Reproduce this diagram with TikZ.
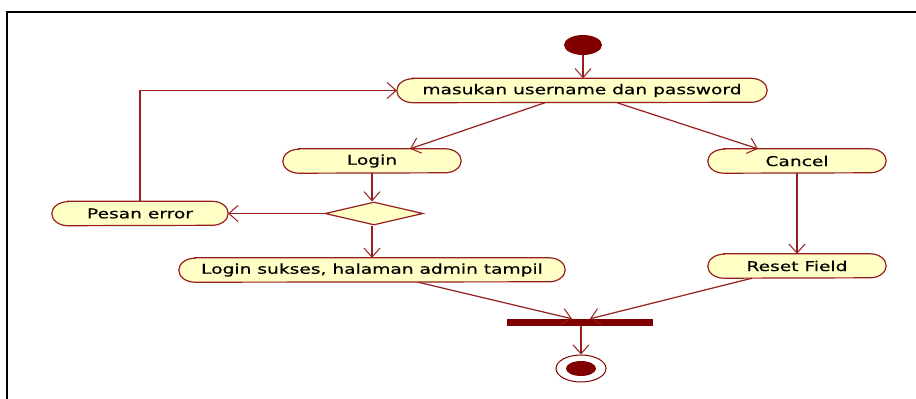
\documentclass[tikz,border=0pt]{standalone}
\usepackage{fontspec}
\setmainfont[FakeStretch=1.38,FakeBold=0.4]{DejaVu Sans}
\usetikzlibrary{shapes.misc,shapes.geometric,arrows.meta,calc}
\definecolor{umldark}{RGB}{128,0,0}
\definecolor{umlline}{RGB}{150,30,30}
\definecolor{umlfill}{RGB}{255,255,198}
\pgfdeclarelayer{background}
\pgfsetlayers{background,main}

% outline of an action state: straight sides with half-ellipse ends
\newcommand\actionoutline[1]{%
  \begin{pgfonlayer}{background}
    \path[actionborder] ($(#1.north west)+(16,0)$) -- ($(#1.north east)+(-16,0)$)
      arc[start angle=90,end angle=-90,x radius=16pt,y radius=12pt]
      -- ($(#1.south west)+(16,0)$)
      arc[start angle=270,end angle=90,x radius=16pt,y radius=12pt] -- cycle;
  \end{pgfonlayer}}

\begin{document}
\begin{tikzpicture}[x=1pt,y=-1pt,
  action/.style={rectangle, minimum height=24pt, inner sep=0pt, text=black,
    font=\fontsize{13.5}{16}\selectfont},
  actionborder/.style={draw=umlline, fill=umlfill, line width=1.2pt},
  decision/.style={diamond, draw=umlline, fill=umlfill, line width=1.2pt,
    minimum width=98pt, minimum height=23pt, inner sep=0pt},
  flow/.style={draw=umlline, line width=1.2pt,
    -{Straight Barb[length=9pt,width=16pt,line width=1pt]}},
  startdot/.style={ellipse, fill=umldark, minimum width=38pt, minimum height=20pt, inner sep=0pt},
  endring/.style={ellipse, draw=umldark, line width=1pt, fill=white,
    minimum width=50pt, minimum height=27pt, inner sep=0pt},
  enddot/.style={ellipse, fill=umldark, minimum width=30pt, minimum height=15pt, inner sep=0pt},
  syncbar/.style={rectangle, fill=umldark, minimum width=146pt, minimum height=7pt, inner sep=0pt},
]
\useasboundingbox (0,0) rectangle (916,399);
\begin{pgfonlayer}{background}
  \fill[white] (0,0) rectangle (916,399);
\end{pgfonlayer}

% frame
\draw[black, line width=2.2pt] (7,399) -- (7,12) -- (916,12);

% nodes
\node[startdot] (start) at (583,45) {};
\node[action, minimum width=370pt] (masuk) at (582,90.5) {masukan username dan password};
\node[action, minimum width=178pt] (login) at (372,161) {Login};
\node[action, minimum width=178pt] (cancel) at (797,161) {Cancel};
\node[action, minimum width=176pt] (pesan) at (140,213.5) {Pesan error};
\node[decision] (dec) at (374,213.5) {};
\node[action, minimum width=386pt] (sukses) at (372,270) {Login sukses, halaman admin tampil};
\node[action, minimum width=178pt] (reset) at (797,266) {Reset Field};
\node[syncbar] (bar) at (580,322.5) {};
\node[endring] (endo) at (581,368.5) {};
\node[enddot] (endi) at (581,368.5) {};

\actionoutline{masuk}
\actionoutline{login}
\actionoutline{cancel}
\actionoutline{pesan}
\actionoutline{sukses}
\actionoutline{reset}

% transitions
\draw[flow] (start.south) -- (start.south |- masuk.north);
\draw[flow] ($(masuk.south)+(-37,0)$) -- ($(login.north)+(38,0)$);
\draw[flow] ($(masuk.south)+(35,0)$) -- ($(cancel.north)+(-39,0)$);
\draw[flow] (login.south) -- (login.south |- dec.north);
\draw[flow] (dec.west) -- (pesan.east);
\draw[flow] (pesan.north) |- (masuk.west);
\draw[flow] (dec.south -| login.south) -- (login.south |- sukses.north);
\draw[flow] (cancel.south) -- (reset.north);
\draw[flow] ($(sukses.south)+(46,0)$) -- ($(bar.north)+(-8,0)$);
\draw[flow] ($(reset.south)+(-45,0)$) -- ($(bar.north)+(10,0)$);
\draw[flow] (bar.south -| endo.north) -- (endo.north);
\end{tikzpicture}
\end{document}
